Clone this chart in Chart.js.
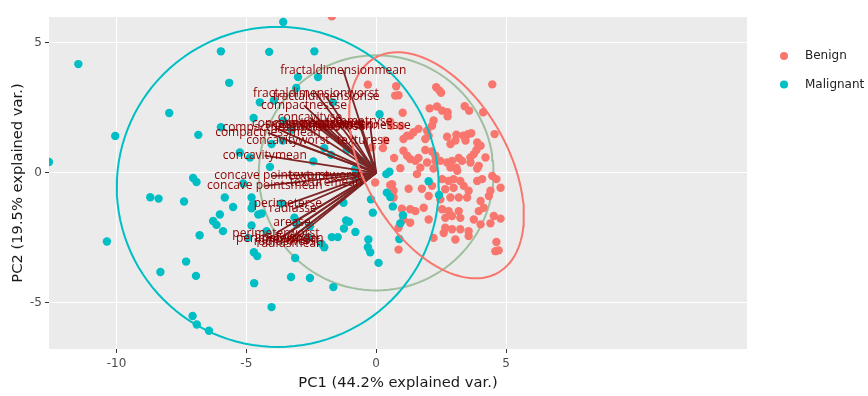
<!DOCTYPE html>
<html>
<head>
<meta charset="utf-8">
<script src="https://cdn.jsdelivr.net/npm/chart.js@4.4.1/dist/chart.umd.min.js"></script>
<style>
  html, body { margin: 0; padding: 0; background: #fff; }
  #wrap { width: 868px; height: 396px; }
</style>
</head>
<body>
<div id="wrap"><canvas id="biplot" width="868" height="396"></canvas></div>
<script>
// PC scores
const benignPC1 = [0.77,0.86,2.31,2.43,2.50,4.47,1.02,2.06,2.34,2.54,2.75,2.75,3.41,3.58,4.12,0.54,0.57,0.95,2.21,2.15,
  1.63,1.44,1.31,1.19,1.05,1.96,2.02,1.89,4.56,2.73,3.09,3.35,3.54,3.66,3.44,3.05,2.86,3.89,4.02,3.86,
  3.76,3.63,3.63,3.95,1.89,2.15,2.28,2.28,1.05,1.19,1.31,1.51,1.63,0.69,0.26,1.96,2.47,2.73,2.92,3.18,
  3.31,3.09,2.86,0.93,1.70,4.21,1.57,2.21,3.12,3.89,2.54,2.79,2.98,3.24,3.89,4.08,4.47,4.63,-0.04,0.54,
  1.25,1.76,2.15,2.66,2.98,3.37,3.56,4.40,4.79,0.67,0.67,2.02,2.47,2.86,3.18,3.50,4.02,4.34,1.31,1.51,
  1.83,2.02,0.99,1.05,2.54,2.79,3.18,3.95,4.14,2.66,2.92,3.24,3.76,4.53,4.79,0.86,1.31,2.66,2.92,3.24,
  3.56,4.02,4.40,2.21,3.05,3.56,2.60,0.86,4.63,4.59,4.72,-0.32,0.73,-1.71,-0.17,0.61,0.35];
const benignPC2 = [3.33,2.98,3.29,3.17,3.08,3.40,2.31,2.48,2.55,2.39,2.33,2.17,2.56,2.39,2.33,1.97,1.81,1.80,2.01,1.81,
  1.69,1.56,1.43,1.43,1.30,1.62,1.43,1.30,1.49,1.39,1.47,1.43,1.49,1.52,1.24,1.24,1.11,1.17,1.04,0.88,
  0.72,0.59,0.40,0.27,0.88,0.82,0.66,0.46,0.85,0.66,0.53,0.46,0.57,0.57,0.95,0.40,0.46,0.40,0.46,0.57,
  0.46,0.20,0.20,0.18,0.20,0.59,-0.05,0.17,0.08,0.17,-0.24,-0.31,-0.24,-0.31,-0.31,-0.24,-0.12,-0.24,-0.37,-0.47,
  -0.61,-0.61,-0.50,-0.63,-0.57,-0.50,-0.69,-0.69,-0.57,-0.69,-0.95,-0.89,-1.02,-0.95,-0.95,-0.95,-1.08,-0.89,-1.40,-1.47,
  -1.34,-1.79,-1.38,-1.79,-1.40,-1.47,-1.47,-1.47,-1.34,-1.73,-1.66,-1.73,-1.79,-1.66,-1.76,-2.11,-1.92,-2.11,-2.17,-2.17,
  -2.24,-1.98,-1.94,-2.50,-2.56,-2.43,-2.31,-2.95,-2.66,-3.01,-2.98,3.39,2.97,6.02,0.98,-0.44,1.24];

const malignantPC1 = [-11.47,-10.05,-12.60,-7.97,-6.85,-7.05,-6.92,-8.70,-8.38,-7.40,-6.80,-10.37,-7.32,-8.31,-6.94,-7.07,-6.91,-6.44,-3.58,-5.98,
  -4.12,-2.38,-5.66,-3.01,-2.24,-3.08,-4.48,-3.94,-4.72,-5.98,-3.58,-3.25,-2.00,-1.74,-1.13,-2.42,-4.09,-4.03,-3.60,-1.67,
  -4.86,-5.25,-0.54,-0.20,-5.12,-5.83,-5.51,-4.74,-4.80,-6.02,-6.28,-6.15,-5.90,-4.54,-4.41,-3.64,-3.15,-3.06,-4.80,-4.22,
  -4.93,-2.55,-2.61,-2.10,-2.00,-1.71,-1.48,-1.26,-1.16,-1.05,-1.24,-0.80,-0.20,-0.13,-0.32,-0.23,0.09,-4.71,-4.58,-3.12,
  -4.70,-3.28,-2.55,-1.65,-4.03,0.13,2.02,2.42,0.39,0.51,0.41,0.54,0.64,1.03,0.93,0.89,-0.81,-0.75,-4.80,-0.30];
const malignantPC2 = [4.18,1.42,0.42,2.30,1.46,-0.20,-0.35,-0.94,-0.99,-1.10,-2.40,-2.64,-3.41,-3.81,-3.96,-5.50,-5.83,-6.07,5.80,4.67,
  4.65,4.67,3.46,3.68,3.68,3.26,2.71,2.78,2.11,1.75,2.00,1.66,0.95,0.69,0.88,0.44,0.23,1.11,1.24,2.71,
  0.59,0.78,0.46,0.31,-0.41,-0.95,-1.31,-1.21,-1.36,-1.60,-1.85,-2.00,-2.24,-1.60,-1.56,-1.18,-1.72,-1.98,-2.02,-2.24,
  -2.50,-2.05,-2.47,-2.73,-2.86,-2.47,-2.47,-1.15,-1.83,-1.88,-2.14,-2.27,-1.02,-1.53,-2.86,-3.05,-3.46,-3.05,-3.20,-3.27,
  -4.24,-4.00,-4.04,-4.39,-5.16,2.25,-0.32,-0.85,-0.05,0.04,-0.76,-0.93,-1.29,-1.63,-1.94,-2.54,0.14,-0.24,-0.95,-2.56];

// variable loadings (arrow tips, scaled as in the picture)
const varNames = ['fractaldimensionmean','fractaldimensionworst','fractaldimensionse','compactnessse','concavityse',
  'symmetryse','smoothnessse','concave pointsse','symmetryworst','smoothnessworst','smoothnessmean','symmetrymean',
  'compactnessworst','compactnessmean','concavityworst','texturese','concavitymean','concave pointsworst','textureworst',
  'concave pointsmean','texturemean','perimeterse','radiusse','arease','perimeterworst','areaworst','perimetermean',
  'areamean','radiusworst','radiusmean'];
const varPC1 = [-1.27,-2.32,-1.93,-2.78,-2.55,-0.69,-0.23,-2.93,-2.16,-2.36,-2.08,-1.78,-3.90,-4.17,-3.40,-0.50,-4.29,-4.02,-1.97,
  -4.29,-1.93,-3.40,-3.20,-3.24,-3.86,-3.59,-3.71,-3.32,-3.44,-3.32];
const varPC2 = [3.94,3.05,2.93,2.59,2.12,1.97,1.81,1.89,1.89,1.85,1.78,1.85,1.74,1.54,1.24,1.24,0.66,-0.12,-0.12,
  -0.50,-0.39,-1.20,-1.39,-1.93,-2.32,-2.47,-2.51,-2.55,-2.63,-2.70];

// group ellipses: [centre x, centre y, semi-axis a, semi-axis b, angle in degrees]
const benignEllipse = [2.32, 0.29, 4.76, 2.75, -60];
const malignantEllipse = [-3.79, -0.54, 6.2, 6.15, 0];
const circleRadius = 4.52;

const xTicks = [-10, -5, 0, 5];
const yTicks = [-5, 0, 5];
const groups = ['Benign', 'Malignant'];
const groupColors = ['#F8766D', '#00BFC4'];

function ellipsePath(p) {
  const pts = [];
  const t = p[4] * Math.PI / 180;
  for (let i = 0; i <= 120; i++) {
    const a = i / 120 * 2 * Math.PI;
    const ex = p[2] * Math.cos(a), ey = p[3] * Math.sin(a);
    pts.push({x: p[0] + ex * Math.cos(t) - ey * Math.sin(t), y: p[1] + ex * Math.sin(t) + ey * Math.cos(t)});
  }
  return pts;
}

const datasets = [];
datasets.push({type: 'line', data: ellipsePath([0, 0, circleRadius, circleRadius, 0]), borderColor: '#9FBF9F',
  borderWidth: 2, pointRadius: 0, fill: false, order: 50});
varNames.forEach((n, i) => {
  datasets.push({type: 'line', data: [{x: 0, y: 0}, {x: varPC1[i], y: varPC2[i]}], borderColor: 'rgb(125,36,36)',
    borderWidth: 1.8, pointRadius: 0, order: 40});
});
datasets.push({type: 'scatter', label: groups[0], data: benignPC1.map((v, i) => ({x: v, y: benignPC2[i]})),
  backgroundColor: groupColors[0], borderWidth: 0, pointRadius: 4.2, order: 45});
datasets.push({type: 'scatter', label: groups[1], data: malignantPC1.map((v, i) => ({x: v, y: malignantPC2[i]})),
  backgroundColor: groupColors[1], borderWidth: 0, pointRadius: 4.2, order: 44});
datasets.push({type: 'line', data: ellipsePath(benignEllipse), borderColor: groupColors[0], borderWidth: 2,
  pointRadius: 0, order: 10});
datasets.push({type: 'line', data: ellipsePath(malignantEllipse), borderColor: groupColors[1], borderWidth: 2,
  pointRadius: 0, order: 11});
datasets.forEach(d => { d.clip = 0; });

const panelBg = {
  id: 'panelBg',
  beforeDraw(chart) {
    const {ctx, chartArea: a} = chart;
    ctx.save();
    ctx.fillStyle = '#EBEBEB';
    ctx.fillRect(a.left, a.top, a.right - a.left, a.bottom - a.top);
    ctx.restore();
  }
};

const varLabels = {
  id: 'varLabels',
  afterDatasetsDraw(chart) {
    const {ctx, scales: {x, y}} = chart;
    ctx.save();
    ctx.font = '12px "Open Sans"';
    ctx.fillStyle = '#8B0000';
    ctx.textAlign = 'center';
    ctx.textBaseline = 'middle';
    varNames.forEach((n, i) => ctx.fillText(n, x.getPixelForValue(varPC1[i]), y.getPixelForValue(varPC2[i])));
    ctx.restore();
  },
  afterDraw(chart) {
    const ctx = chart.ctx;
    ctx.save();
    ctx.font = '12px "DejaVu Sans"';
    ctx.textBaseline = 'middle';
    groups.forEach((g, i) => {
      const yy = 56 + i * 28.5;
      ctx.fillStyle = groupColors[i];
      ctx.beginPath();
      ctx.arc(784, yy, 4, 0, 2 * Math.PI);
      ctx.fill();
      ctx.fillStyle = '#222';
      ctx.fillText(g, 805, yy);
    });
    ctx.restore();
  }
};

new Chart(document.getElementById('biplot').getContext('2d'), {
  data: {datasets: datasets},
  options: {
    responsive: false,
    animation: false,
    layout: {padding: {top: 17, right: 121, left: 0, bottom: 0}},
    plugins: {legend: {display: false}, tooltip: {enabled: false}},
    scales: {
      x: {
        type: 'linear', min: -12.6, max: 14.28,
        afterBuildTicks: s => { s.ticks = xTicks.map(v => ({value: v})); },
        afterFit: s => { s.height = 47; },
        ticks: {color: '#4D4D4D', font: {family: 'DejaVu Sans', size: 12}, padding: 4, maxRotation: 0},
        grid: {color: '#FFFFFF', lineWidth: 1, tickColor: '#333333', tickLength: 4},
        border: {display: false},
        title: {display: true, text: 'PC1 (44.2% explained var.)', color: '#1a1a1a',
          font: {family: 'DejaVu Sans', size: 14.7}, padding: {top: 0, bottom: 4}}
      },
      y: {
        type: 'linear', min: -6.77, max: 5.99,
        afterBuildTicks: s => { s.ticks = yTicks.map(v => ({value: v})); },
        afterFit: s => { s.width = 49; },
        ticks: {color: '#4D4D4D', font: {family: 'DejaVu Sans', size: 12}, padding: 3},
        grid: {color: '#FFFFFF', lineWidth: 1, tickColor: '#333333', tickLength: 4},
        border: {display: false},
        title: {display: true, text: 'PC2 (19.5% explained var.)', color: '#1a1a1a',
          font: {family: 'DejaVu Sans', size: 14.7}, padding: {top: 9, bottom: 0}}
      }
    }
  },
  plugins: [panelBg, varLabels]
});
</script>
</body>
</html>
